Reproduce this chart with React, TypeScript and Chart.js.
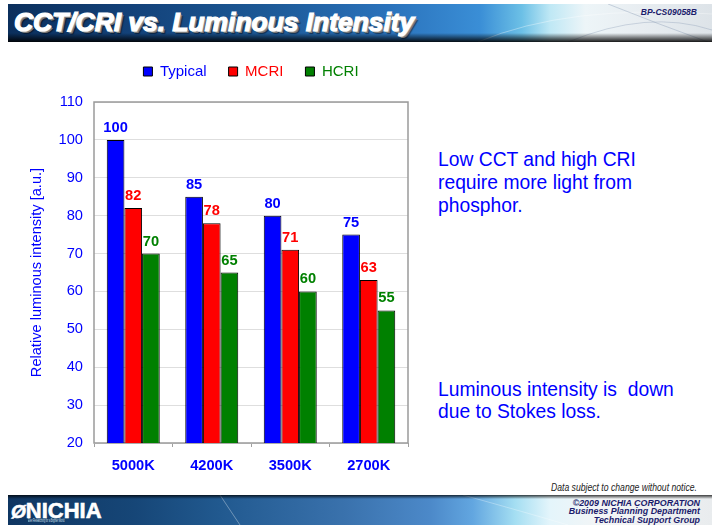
import React, { useEffect, useRef } from "react";
import { Chart, registerables } from "chart.js";

Chart.register(...registerables);

// ---- data ----
const categories = ["5000K", "4200K", "3500K", "2700K"];
const seriesNames = ["Typical", "MCRI", "HCRI"];
const typical = [100, 85, 80, 75];
const mcri = [82, 78, 71, 63];
const hcri = [70, 65, 60, 55];
const yMin = 20;
const yMax = 110;
const yStep = 10;

const FONT = '"Liberation Sans", Arial, sans-serif';
const COLORS = ["#0000FF", "#FF0000", "#008000"];

const frameAndLabels = {
  id: "frameAndLabels",
  beforeDatasetsDraw(chart: any) {
    const { ctx, chartArea: a } = chart;
    ctx.save();
    ctx.strokeStyle = "#9a9a9a";
    ctx.lineWidth = 1.5;
    ctx.strokeRect(a.left, a.top, a.right - a.left, a.bottom - a.top);
    ctx.restore();
  },
  afterDatasetsDraw(chart: any) {
    const { ctx } = chart;
    ctx.save();
    ctx.font = `bold 14.67px ${FONT}`;
    ctx.textAlign = "center";
    ctx.textBaseline = "alphabetic";
    chart.data.datasets.forEach((ds: any, i: number) => {
      const meta = chart.getDatasetMeta(i);
      ctx.fillStyle = COLORS[i];
      meta.data.forEach((el: any, j: number) => {
        ctx.fillText(String(ds.data[j]), el.x, el.y - 8);
      });
    });
    ctx.restore();
  },
};

export default function App() {
  const ref = useRef<HTMLCanvasElement | null>(null);

  useEffect(() => {
    if (!ref.current) return;
    const values = [typical, mcri, hcri];
    const chart = new Chart(ref.current, {
      type: "bar",
      data: {
        labels: categories,
        datasets: seriesNames.map((name, i) => ({
          label: name,
          data: values[i],
          backgroundColor: COLORS[i],
          borderColor: "#000000",
          borderWidth: 1,
          categoryPercentage: 0.675,
          barPercentage: 1,
        })),
      },
      options: {
        animation: false,
        responsive: false,
        devicePixelRatio: 1,
        layout: { padding: { top: 42, right: 12, left: 0, bottom: 0 } },
        plugins: {
          legend: {
            position: "top",
            fullSize: false,
            weight: 3000,
            labels: {
              boxWidth: 9,
              boxHeight: 9,
              padding: 22,
              font: { family: FONT, size: 15 },
              generateLabels: (c: any) => {
                const items = (Chart.defaults.plugins.legend.labels as any).generateLabels(c);
                return items.map((it: any, i: number) => ({
                  ...it,
                  fontColor: COLORS[i],
                  strokeStyle: "#000",
                  lineWidth: 1,
                }));
              },
            },
          },
          title: {
            display: true,
            text: "",
            fullSize: false,
            font: { size: 10, lineHeight: 1 },
            padding: { top: 0, bottom: 3 },
          },
          tooltip: { enabled: false },
        },
        scales: {
          x: {
            grid: {
              display: true,
              drawOnChartArea: false,
              drawTicks: true,
              tickLength: 4,
              color: "#a0a0a0",
              offset: true,
            },
            border: { display: false },
            ticks: {
              color: "#0000FF",
              font: { family: FONT, size: 14.67, weight: "bold" },
              padding: 10,
            },
            afterFit: (s: any) => {
              s.height = 37;
            },
          },
          y: {
            min: yMin,
            max: yMax,
            ticks: {
              stepSize: yStep,
              color: "#0000FF",
              font: { family: FONT, size: 14.67 },
              padding: 11,
            },
            grid: { color: "#dedede", drawTicks: false, lineWidth: 1 },
            border: { display: false },
            title: {
              display: true,
              text: "Relative luminous intensity [a.u.]",
              color: "#0000FF",
              font: { family: FONT, size: 14.6 },
              padding: { top: 28, bottom: 0 },
            },
            afterFit: (s: any) => {
              s.width = 94;
            },
          },
        },
      } as any,
      plugins: [frameAndLabels],
    });
    return () => chart.destroy();
  }, []);

  const navy = "#1b1b6b";

  return (
    <div
      style={{
        position: "fixed",
        left: 0,
        top: 0,
        width: 720,
        height: 527,
        background: "#ffffff",
        overflow: "hidden",
        fontFamily: FONT,
      }}
    >
      {/* header banner */}
      <div
        style={{
          position: "absolute",
          left: 8,
          top: 4,
          width: 704,
          height: 38,
          overflow: "hidden",
          background:
            "linear-gradient(to right, #0b2f5c 0%, #13427a 18%, #1c5895 36%, #2a72bb 54%, #3a8ed6 67%, #6cc0e6 73%, #bfe8f5 77%, #edf5f8 82%, #e8edf1 90%, #dde3e8 100%)",
        }}
      >
        <svg
          width={704}
          height={38}
          style={{ position: "absolute", left: 0, top: 0 }}
        >
          <path d="M470 38 Q 560 0 704 10" stroke="rgba(255,255,255,0.35)" strokeWidth={1} fill="none" />
          <path d="M600 0 Q 650 20 700 38" stroke="rgba(120,140,170,0.35)" strokeWidth={1} fill="none" />
          <path d="M560 38 Q 640 5 704 26" stroke="rgba(120,140,170,0.3)" strokeWidth={1} fill="none" />
        </svg>
        <div
          style={{
            position: "absolute",
            left: 0,
            right: 0,
            bottom: 0,
            height: 9,
            background:
              "linear-gradient(to bottom, rgba(0,0,0,0) 0%, rgba(0,0,0,0.55) 60%, rgba(0,0,0,0.9) 100%)",
          }}
        />
      </div>
      <div
        style={{
          position: "absolute",
          left: 14,
          top: 9,
          fontSize: 26.4,
          lineHeight: "26px",
          fontWeight: "bold",
          fontStyle: "italic",
          color: "#ffffff",
          whiteSpace: "nowrap",
          WebkitTextStroke: "1.2px #ffffff",
          textShadow: "1px 1px 0 #a8a8a8, 2px 2px 0 #787878, 3px 3px 1px rgba(0,0,0,0.45)",
        }}
      >
        CCT/CRI vs. Luminous Intensity
      </div>
      <div
        style={{
          position: "absolute",
          right: 23,
          top: 7,
          fontSize: 8.5,
          lineHeight: "10px",
          fontWeight: "bold",
          fontStyle: "italic",
          color: navy,
          whiteSpace: "nowrap",
        }}
      >
        BP-CS09058B
      </div>

      {/* right-side notes */}
      <div
        style={{
          position: "absolute",
          left: 438,
          top: 148.4,
          fontSize: 19.3,
          lineHeight: "23px",
          color: "#0000FF",
          whiteSpace: "pre",
        }}
      >
        {"Low CCT and high CRI\nrequire more light from\nphosphor."}
      </div>
      <div
        style={{
          position: "absolute",
          left: 438,
          top: 378.7,
          fontSize: 19.3,
          lineHeight: "22.5px",
          color: "#0000FF",
          whiteSpace: "pre",
        }}
      >
        {"Luminous intensity is  down\ndue to Stokes loss."}
      </div>

      {/* chart */}
      <canvas
        ref={ref}
        width={420}
        height={480}
        style={{ position: "absolute", left: 0, top: 0, width: 420, height: 480 }}
      />

      {/* notice */}
      <div
        style={{
          position: "absolute",
          right: 23,
          top: 481,
          fontSize: 11,
          lineHeight: "13px",
          fontStyle: "italic",
          color: "#222222",
          whiteSpace: "nowrap",
          transform: "scaleX(0.785)",
          transformOrigin: "right center",
        }}
      >
        Data subject to change without notice.
      </div>

      {/* footer banner */}
      <div
        style={{
          position: "absolute",
          left: 8,
          top: 495,
          width: 704,
          height: 30,
          overflow: "hidden",
          background:
            "linear-gradient(to right, #0f3662 0%, #164677 18%, #21598f 30%, #3a72ad 48%, #4c89c9 60%, #62a6e0 66%, #a4def2 72%, #e4f5fb 77%, #f3f5f6 84%, #e9ecee 100%)",
        }}
      >
        <svg
          width={704}
          height={30}
          style={{ position: "absolute", left: 0, top: 0 }}
        >
          <path d="M212 0 L 232 30" stroke="rgba(255,255,255,0.35)" strokeWidth={1} fill="none" />
          <path d="M455 0 Q 520 18 560 30" stroke="rgba(255,255,255,0.3)" strokeWidth={1} fill="none" />
        </svg>
        <div
          style={{
            position: "absolute",
            left: 0,
            right: 0,
            top: 0,
            height: 4,
            background: "linear-gradient(to bottom, rgba(0,0,0,0.75), rgba(0,0,0,0))",
          }}
        />
      </div>
      <div
        style={{
          position: "absolute",
          left: 11,
          top: 500,
          fontSize: 22,
          lineHeight: "22px",
          fontWeight: "bold",
          color: "#ffffff",
          whiteSpace: "nowrap",
          WebkitTextStroke: "0.6px #ffffff",
        }}
      >
        <span style={{ fontStyle: "italic", fontSize: 19 }}>Ø</span>NICHIA
      </div>
      <div
        style={{
          position: "absolute",
          left: 28,
          top: 518,
          fontSize: 8,
          lineHeight: "8px",
          color: "#d8e4f0",
          whiteSpace: "nowrap",
          transform: "scale(0.27, 0.6)",
          transformOrigin: "left top",
        }}
      >
        Ever Researching for a Brighter World
      </div>
      <div
        style={{
          position: "absolute",
          right: 20,
          top: 498.5,
          fontSize: 8.9,
          lineHeight: "8.8px",
          fontWeight: "bold",
          fontStyle: "italic",
          color: navy,
          textAlign: "right",
          whiteSpace: "pre",
        }}
      >
        {"©2009 NICHIA CORPORATION\nBusiness Planning Department\nTechnical Support Group"}
      </div>
    </div>
  );
}
